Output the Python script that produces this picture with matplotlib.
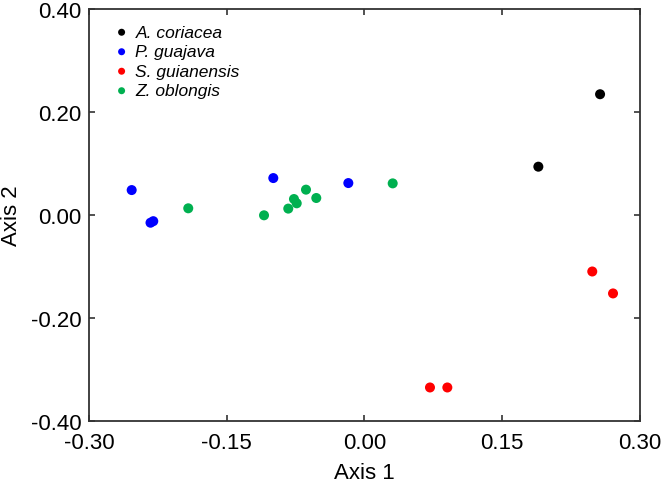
import matplotlib
matplotlib.use("Agg")
import matplotlib.pyplot as plt

plt.rcParams['font.family'] = ['Liberation Sans', 'DejaVu Sans']

species = ['A. coriacea', 'P. guajava', 'S. guianensis', 'Z. oblongis']
colors = ['#000000', '#0000FF', '#FF0000', '#00B050']

coriacea_x = [0.2565, 0.1893]
coriacea_y = [0.2345, 0.0938]
guajava_x = [-0.2535, -0.2330, -0.2300, -0.0993, -0.0176]
guajava_y = [0.0484, -0.0150, -0.0120, 0.0717, 0.0620]
guianensis_x = [0.2480, 0.2706, 0.0713, 0.0902]
guianensis_y = [-0.1097, -0.1523, -0.3349, -0.3349]
oblongis_x = [-0.1919, -0.1094, -0.0830, -0.0768, -0.0738, -0.0637, -0.0525, 0.0307]
oblongis_y = [0.0130, -0.0006, 0.0124, 0.0310, 0.0227, 0.0492, 0.0330, 0.0614]

xs = [coriacea_x, guajava_x, guianensis_x, oblongis_x]
ys = [coriacea_y, guajava_y, guianensis_y, oblongis_y]

fig = plt.figure(figsize=(6.62, 4.85), dpi=100)
ax = fig.add_axes([0.1344, 0.1299, 0.8324, 0.8495])

for name, c, x, y in zip(species, colors, xs, ys):
    ax.scatter(x, y, s=52, c=c, edgecolors='none', label=name, zorder=3)

ax.set_xlim(-0.30, 0.30)
ax.set_ylim(-0.40, 0.40)
ax.set_xticks([-0.30, -0.15, 0.00, 0.15, 0.30])
ax.set_yticks([-0.40, -0.20, 0.00, 0.20, 0.40])
ax.set_xticklabels(['-0.30', '-0.15', '0.00', '0.15', '0.30'])
ax.set_yticklabels(['-0.40', '-0.20', '0.00', '0.20', '0.40'])
ax.tick_params(direction='in', length=4, width=1.2, labelsize=16,
               top=True, right=True, color='#333333')
ax.tick_params(axis='x', pad=8)
ax.tick_params(axis='y', pad=5.5)
for sp in ax.spines.values():
    sp.set_linewidth(1.3)
    sp.set_color('#333333')

ax.set_xlabel('Axis 1', fontsize=16, labelpad=6.5)
ax.set_ylabel('Axis 2', fontsize=16, labelpad=6.5)

leg = ax.legend(loc='upper left', bbox_to_anchor=(0.0466, 0.962), frameon=False,
                prop={'style': 'italic', 'size': 12.5},
                markerscale=0.7, handletextpad=0.4, labelspacing=0.25,
                borderaxespad=0, borderpad=0, handlelength=0.8)

fig.savefig('out.png', dpi=100)
